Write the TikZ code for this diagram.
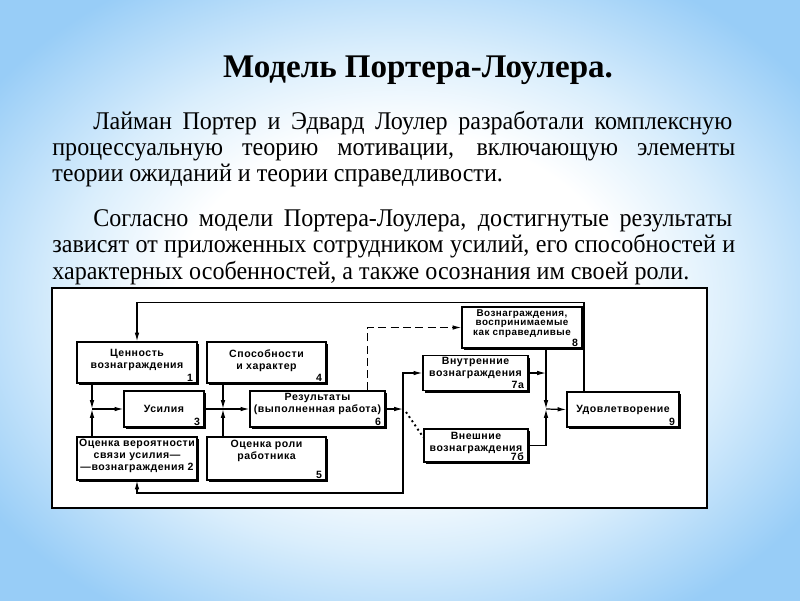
\documentclass[tikz,border=0pt]{standalone}
\usepackage{fontspec}
\setmainfont{Liberation Serif}
\newfontfamily\slidefont[FakeStretch=0.945]{Liberation Serif}
\newfontfamily\boxfont[LetterSpace=5]{Liberation Sans}
\usetikzlibrary{arrows.meta, shadows}
\definecolor{slideBlue}{RGB}{152, 205, 247}
\definecolor{slidePale}{RGB}{218, 238, 252}
\pgfdeclareradialshading{slideglow}{\pgfpoint{0bp}{0bp}}{color(0bp)=(white); color(14bp)=(white); color(21bp)=(slidePale); color(31bp)=(slideBlue); color(50bp)=(slideBlue)}
\def\padline{\\[-3pt]~}
\tikzset{
    block/.style={draw, line width=0.7pt, fill=white, align=center,
        font=\boxfont\bfseries\fontsize{6}{6.8}\selectfont, inner xsep=0.5pt, inner ysep=1pt,
        drop shadow={fill=black, opacity=1, shadow xshift=1.3pt, shadow yshift=-1.3pt}},
    boxsize/.style 2 args={minimum width=#1*0.02cm, minimum height=#2*0.02cm},
    num/.style={anchor=south east, inner xsep=2.5pt, inner ysep=1.2pt,
        font=\boxfont\bfseries\fontsize{6}{6.8}\selectfont},
    link/.style={line width=0.7pt},
    arr/.style={link, -{Latex[length=5pt,width=2.6pt]}},
    bodytext/.style={inner sep=0pt, anchor=base west, font=\slidefont\fontsize{14.5}{17}\selectfont}
}

\begin{document}
\begin{tikzpicture}[x=0.02cm, y=-0.02cm]
    \useasboundingbox (0,0) rectangle (800,600);

    % Slide background
    \shade[shading=slideglow] (0,0) rectangle (800,600);

    % Heading and text
    \node[font=\fontsize{18.8}{22}\selectfont\bfseries, anchor=base, inner sep=0pt] (title) at (418,77) {Модель Портера-Лоулера.};
    \node[bodytext] (pa1) at (93,129) {\makebox[12.78cm][s]{Лайман Портер и Эдвард Лоулер разработали комплексную}};
    \node[bodytext] (pa2) at (52,155) {\makebox[13.66cm][s]{процессуальную теорию мотивации, включающую элементы}};
    \node[bodytext] (pa3) at (52,181) {теории ожиданий и теории справедливости.};
    \node[bodytext] (pb1) at (93,226) {\makebox[12.78cm][s]{Согласно модели Портера-Лоулера, достигнутые результаты}};
    \node[bodytext] (pb2) at (52,252) {\makebox[13.66cm][s]{зависят от приложенных сотрудником усилий, его способностей и}};
    \node[bodytext] (pb3) at (52,279) {характерных особенностей, а также осознания им своей роли.};

    % Frame of the scheme
    \draw[fill=white, line width=0.9pt] (52,288) rectangle (707,508);

    % Blocks
    \node[block, boxsize={120}{41}, label={[num]south east:1}] (value) at (137,362.5) {Ценность\\вознаграждения\padline};
    \node[block, boxsize={120}{43}] (prob) at (137,458.5) {Оценка вероятности\\связи усилия—\\—вознаграждения 2\padline};
    \node[block, boxsize={80}{36}, label={[num]south east:3}] (effort) at (164,409) {Усилия};
    \node[block, boxsize={119}{41}, label={[num]south east:4}] (ability) at (266.5,362.5) {Способности\\и характер\padline};
    \node[block, boxsize={119}{43}, label={[num]south east:5}] (role) at (266.5,458.5) {Оценка роли\\работника\\[3pt]~};
    \node[block, boxsize={135}{36}, label={[num]south east:6}] (perf) at (317.5,409) {Результаты\\(выполненная работа)\\~};
    \node[block, boxsize={105}{34}, label={[num]south east:7а}] (intr) at (475.5,373) {Внутренние\\вознаграждения\\~};
    \node[block, boxsize={104}{33}, label={[num]south east:7б}] (extr) at (476,445.5) {Внешние\\вознаграждения\padline};
    \node[block, boxsize={120}{41}, font=\boxfont\bfseries\fontsize{5.6}{5.6}\selectfont, label={[num]south east:8}] (fair) at (522,327.5) {Вознаграждения,\\воспринимаемые\\как справедливые\\~};
    \node[block, boxsize={112}{35}, label={[num]south east:9}] (satis) at (623,409.5) {Удовлетворение};

    % Junctions
    \coordinate (jA) at (92,409);
    \coordinate (jB) at (223,409);
    \coordinate (jC) at (403,409);
    \coordinate (jD) at (546,409);

    % Value and probability give effort
    \draw[arr] (value.south -| jA) -- (jA);
    \draw[arr] (prob.north -| jA) -- (jA);
    \draw[arr] (jA) -- (effort.west);

    % Effort, abilities and role give results
    \draw[link] (effort.east) -- (jB);
    \draw[arr] (ability.south -| jB) -- (jB);
    \draw[arr] (role.north -| jB) -- (jB);
    \draw[arr] (jB) -- (perf.west);

    % Results lead to rewards
    \draw[arr] (perf.east) -- (jC);
    \draw[arr] (jC) |- (intr.west);
    \draw[link, line width=1.1pt, dash pattern=on 1.1pt off 1.8pt] ([shift={(3,3)}]jC) -- ([shift={(0,9)}]extr.north west);
    \draw[arr, dash pattern=on 4.5pt off 2.5pt] ([shift={(50,0)}]perf.north) |- (fair.west);

    % Rewards lead to satisfaction
    \draw[arr] (intr.east) -- (intr.east -| jD);
    \draw[arr] (fair.south -| jD) -- (jD);
    \draw[arr] (extr.east) -| (jD);
    \draw[arr] (jD) -- (satis.west);

    % Feedback loops
    \draw[arr] ([shift={(-39,0)}]satis.north) -- ++(0,-89) -| (value.north);
    \draw[arr] (jC) -- ++(0,84) -| (prob.south);
\end{tikzpicture}
\end{document}
